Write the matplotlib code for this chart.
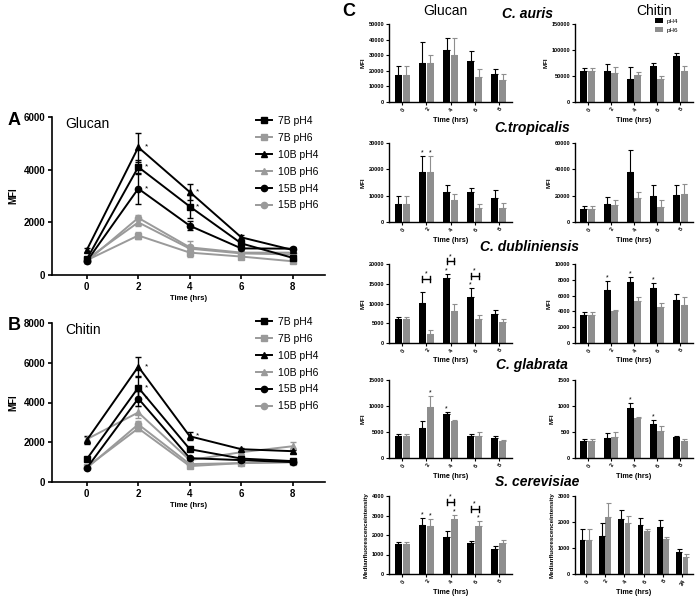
import numpy as np
import matplotlib
matplotlib.use("Agg")
import matplotlib.pyplot as plt
from matplotlib.lines import Line2D

plt.rcParams['font.family'] = ['Liberation Sans', 'DejaVu Sans']

# ---------------- data: panels A/B ----------------
time_ab = [0, 2, 4, 6, 8]
line_labels = ["7B pH4", "7B pH6", "10B pH4", "10B pH6", "15B pH4", "15B pH6"]

glu_7B_pH4 = [600, 4100, 2600, 1200, 650]
glu_7B_pH6 = [560, 1500, 850, 700, 520]
glu_10B_pH4 = [950, 4850, 3150, 1430, 950]
glu_10B_pH6 = [600, 2000, 1000, 820, 780]
glu_15B_pH4 = [520, 3280, 1870, 1010, 1000]
glu_15B_pH6 = [520, 2170, 1050, 850, 850]
glu_7B_pH4_err = [80, 250, 450, 100, 60]
glu_7B_pH6_err = [50, 150, 80, 60, 50]
glu_10B_pH4_err = [60, 550, 300, 100, 60]
glu_10B_pH6_err = [50, 150, 300, 60, 60]
glu_15B_pH4_err = [60, 580, 180, 80, 60]
glu_15B_pH6_err = [50, 100, 100, 60, 60]

chi_7B_pH4 = [1150, 4750, 1650, 1180, 1050]
chi_7B_pH6 = [750, 2700, 800, 950, 1000]
chi_10B_pH4 = [2100, 5800, 2300, 1650, 1550]
chi_10B_pH6 = [2150, 3500, 1100, 1500, 1800]
chi_15B_pH4 = [700, 4200, 1200, 1100, 1000]
chi_15B_pH6 = [700, 2900, 900, 950, 1000]
chi_7B_pH4_err = [80, 600, 100, 80, 60]
chi_7B_pH6_err = [50, 150, 60, 60, 60]
chi_10B_pH4_err = [200, 500, 200, 80, 80]
chi_10B_pH6_err = [100, 300, 100, 80, 200]
chi_15B_pH4_err = [60, 400, 80, 60, 60]
chi_15B_pH6_err = [50, 150, 60, 60, 60]

# ---------------- data: panel C ----------------
time_c = ["0", "2", "4", "6", "8"]
time_c_cer_chi = ["0", "2", "4", "6", "8", "24"]
species = ["C. auris", "C.tropicalis", "C. dubliniensis", "C. glabrata", "S. cerevisiae"]

auris_glu_ph4 = [17500, 25000, 33500, 26000, 18000]
auris_glu_ph4_err = [5500, 13500, 7500, 7000, 3000]
auris_glu_ph6 = [17500, 25000, 30000, 16000, 14000]
auris_glu_ph6_err = [5500, 5000, 11000, 5000, 4000]
auris_chi_ph4 = [59000, 60000, 45000, 69000, 89000]
auris_chi_ph4_err = [7000, 14000, 22000, 6000, 6000]
auris_chi_ph6 = [59000, 55000, 52000, 45000, 60000]
auris_chi_ph6_err = [7000, 12000, 6000, 5000, 10000]

trop_glu_ph4 = [7000, 19000, 11500, 11300, 9300]
trop_glu_ph4_err = [2700, 6000, 2500, 1500, 2700]
trop_glu_ph6 = [7000, 19000, 8200, 5200, 5500]
trop_glu_ph6_err = [2700, 6000, 2500, 1500, 1800]
trop_chi_ph4 = [9500, 14000, 38000, 19500, 20500]
trop_chi_ph4_err = [2500, 5000, 17000, 8500, 7500]
trop_chi_ph6 = [9500, 13000, 18000, 11500, 21000]
trop_chi_ph6_err = [2500, 4000, 5000, 5000, 8000]

dub_glu_ph4 = [6200, 10200, 16500, 11600, 7400]
dub_glu_ph4_err = [500, 2800, 1000, 2200, 1000]
dub_glu_ph6 = [6200, 2200, 8000, 6000, 5400]
dub_glu_ph6_err = [500, 1100, 2000, 1000, 700]
dub_chi_ph4 = [3600, 6700, 7700, 6900, 5500]
dub_chi_ph4_err = [300, 1200, 700, 700, 700]
dub_chi_ph6 = [3600, 4000, 5300, 4600, 4800]
dub_chi_ph6_err = [300, 150, 500, 500, 1000]

glab_glu_ph4 = [4200, 5800, 8500, 4300, 3900]
glab_glu_ph4_err = [400, 1300, 300, 400, 400]
glab_glu_ph6 = [4200, 9800, 7200, 4300, 3200]
glab_glu_ph6_err = [400, 2100, 50, 700, 300]
glab_chi_ph4 = [320, 390, 960, 650, 410]
glab_chi_ph4_err = [40, 90, 90, 80, 10]
glab_chi_ph6 = [320, 410, 770, 520, 330]
glab_chi_ph6_err = [40, 90, 20, 90, 30]

cer_glu_ph4 = [1520, 2500, 1900, 1600, 1270]
cer_glu_ph4_err = [100, 350, 300, 100, 150]
cer_glu_ph6 = [1520, 2480, 2830, 2450, 1580]
cer_glu_ph6_err = [100, 320, 220, 250, 140]
cer_chi_ph4 = [1300, 1480, 2120, 1880, 1800, 860]
cer_chi_ph4_err = [420, 470, 330, 270, 270, 90]
cer_chi_ph6 = [1300, 2180, 1970, 1650, 1350, 640]
cer_chi_ph6_err = [420, 570, 260, 70, 70, 120]

# significance marks: (group index, series index 0=pH4 1=pH6)
trop_glu_stars = [(1, 0), (1, 1)]
dub_glu_stars = [(2, 0), (3, 0)]
dub_glu_brackets = [1, 2, 3]
dub_chi_stars = [(1, 0), (2, 0), (3, 0)]
glab_glu_stars = [(1, 1), (2, 0)]
glab_chi_stars = [(2, 0), (3, 0)]
cer_glu_stars = [(1, 0), (1, 1), (2, 1), (3, 1)]
cer_glu_brackets = [2, 3]

# ---------------- figure ----------------
W, H = 696, 601
fig = plt.figure(figsize=(W / 100, H / 100), dpi=100)


def add_ax(left, top, right, bottom):
    return fig.add_axes([left / W, 1 - bottom / H, (right - left) / W, (bottom - top) / H])


BLACK = "#000000"
GRAY = "#9a9a9a"


def line_panel(ax, series, errs, ymax, yticks, title, letter, letter_top, leg_top, stars):
    styles = [(BLACK, 's'), (GRAY, 's'), (BLACK, '^'), (GRAY, '^'), (BLACK, 'o'), (GRAY, 'o')]
    order = [1, 3, 5, 0, 2, 4]
    for i in order:
        c, m = styles[i]
        ax.errorbar(time_ab, series[i], yerr=errs[i], color=c, marker=m, markersize=4.5,
                    lw=1.4, capsize=2.5, elinewidth=1.0, capthick=1.0)
    handles = [Line2D([], [], color=c, marker=m, markersize=4.5, lw=1.4) for c, m in styles]
    ax.set_xlim(-1.35, 9.25)
    ax.set_ylim(0, ymax)
    ax.set_xticks(time_ab)
    ax.set_yticks(yticks)
    for s in ['top', 'right']:
        ax.spines[s].set_visible(False)
    for s in ['left', 'bottom']:
        ax.spines[s].set_linewidth(1.2)
    ax.tick_params(labelsize=7, width=1.2, length=3, pad=2)
    for lab in ax.get_xticklabels() + ax.get_yticklabels():
        lab.set_fontweight('bold')
    ax.set_ylabel("MFI", fontsize=7, fontweight='bold', labelpad=4)
    ax.set_xlabel("Time (hrs)", fontsize=5.5, fontweight='bold', labelpad=2)
    ax.text(0.05, 1.0, title, transform=ax.transAxes, fontsize=10, va='top', ha='left')
    fig.text(8 / W, 1 - letter_top / H, letter, fontsize=13, fontweight='bold', va='top', ha='left')
    ax.legend(handles=handles, labels=line_labels, loc='upper left',
              bbox_to_anchor=(256 / W, 1 - leg_top / H), bbox_transform=fig.transFigure,
              frameon=False, fontsize=7.5, handlelength=1.5, handletextpad=0.6,
              labelspacing=0.66, borderpad=0, borderaxespad=0)
    for (si, ti) in stars:
        ax.text(time_ab[ti] + 0.3, series[si][ti], "*", fontsize=6, ha='center', va='center')


glu_series = [glu_7B_pH4, glu_7B_pH6, glu_10B_pH4, glu_10B_pH6, glu_15B_pH4, glu_15B_pH6]
glu_errs = [glu_7B_pH4_err, glu_7B_pH6_err, glu_10B_pH4_err, glu_10B_pH6_err, glu_15B_pH4_err, glu_15B_pH6_err]
chi_series = [chi_7B_pH4, chi_7B_pH6, chi_10B_pH4, chi_10B_pH6, chi_15B_pH4, chi_15B_pH6]
chi_errs = [chi_7B_pH4_err, chi_7B_pH6_err, chi_10B_pH4_err, chi_10B_pH6_err, chi_15B_pH4_err, chi_15B_pH6_err]

axA = add_ax(52, 117, 325, 275)
line_panel(axA, glu_series, glu_errs, 6000, [0, 2000, 4000, 6000], "Glucan", "A", 112, 116,
           [(2, 1), (0, 1), (4, 1), (2, 2), (0, 2)])
axB = add_ax(52, 323, 325, 482)
line_panel(axB, chi_series, chi_errs, 8000, [0, 2000, 4000, 6000, 8000], "Chitin", "B", 317, 317,
           [(2, 1), (0, 1), (4, 1), (2, 2)])

# ---------------- panel C ----------------
row_tops = [24, 143, 264, 380, 496]
row_bots = [102, 222, 343, 458, 574]
glu_lr = (389, 512)
chi_lr = (575, 693)

rows = [
    (auris_glu_ph4, auris_glu_ph4_err, auris_glu_ph6, auris_glu_ph6_err, 50000, 10000, [], [],
     auris_chi_ph4, auris_chi_ph4_err, auris_chi_ph6, auris_chi_ph6_err, 150000, 50000, [], time_c),
    (trop_glu_ph4, trop_glu_ph4_err, trop_glu_ph6, trop_glu_ph6_err, 30000, 10000, trop_glu_stars, [],
     trop_chi_ph4, trop_chi_ph4_err, trop_chi_ph6, trop_chi_ph6_err, 60000, 20000, [], time_c),
    (dub_glu_ph4, dub_glu_ph4_err, dub_glu_ph6, dub_glu_ph6_err, 20000, 5000, dub_glu_stars, dub_glu_brackets,
     dub_chi_ph4, dub_chi_ph4_err, dub_chi_ph6, dub_chi_ph6_err, 10000, 2000, dub_chi_stars, time_c),
    (glab_glu_ph4, glab_glu_ph4_err, glab_glu_ph6, glab_glu_ph6_err, 15000, 5000, glab_glu_stars, [],
     glab_chi_ph4, glab_chi_ph4_err, glab_chi_ph6, glab_chi_ph6_err, 1500, 500, glab_chi_stars, time_c),
    (cer_glu_ph4, cer_glu_ph4_err, cer_glu_ph6, cer_glu_ph6_err, 4000, 1000, cer_glu_stars, cer_glu_brackets,
     cer_chi_ph4, cer_chi_ph4_err, cer_chi_ph6, cer_chi_ph6_err, 3000, 1000, [], time_c_cer_chi),
]

BAR_BLACK = "#000000"
BAR_GRAY = "#8e8e8e"


def bar_panel(ax, p4, e4, p6, e6, ymax, ystep, labels, stars, brackets, ylabel, lr, bottom, legend=False):
    n = len(labels)
    x = np.arange(n)
    w = 0.3
    off = 0.165
    ax.bar(x - off, p4, width=w, color=BAR_BLACK, label="pH4")
    ax.bar(x + off, p6, width=w, color=BAR_GRAY, label="pH6")
    ax.errorbar(x - off, p4, yerr=[np.zeros(n), e4], fmt='none', ecolor=BAR_BLACK,
                elinewidth=0.8, capsize=1.8, capthick=0.8)
    ax.errorbar(x + off, p6, yerr=[np.zeros(n), e6], fmt='none', ecolor=BAR_GRAY,
                elinewidth=0.8, capsize=1.8, capthick=0.8)
    ax.set_xlim(-0.55, n - 0.45)
    ax.set_ylim(0, ymax)
    ax.set_yticks(np.arange(0, ymax + 1, ystep))
    ax.set_xticks(x)
    ax.set_xticklabels(labels, rotation=60, ha='right', rotation_mode='anchor')
    for s in ['top', 'right']:
        ax.spines[s].set_visible(False)
    for s in ['left', 'bottom']:
        ax.spines[s].set_linewidth(1.0)
    ax.tick_params(labelsize=4, width=0.8, length=2, pad=1.5)
    for lab in ax.get_xticklabels() + ax.get_yticklabels():
        lab.set_fontweight('bold')
    ax.set_ylabel(ylabel, fontsize=4.5, fontweight='bold', labelpad=2)
    fig.text((lr[0] + lr[1]) / 2 / W, 1 - (bottom + 18) / H, "Time (hrs)", fontsize=5.2,
             fontweight='bold', ha='center', va='center', zorder=10)
    tops4 = np.array(p4) + np.array(e4)
    tops6 = np.array(p6) + np.array(e6)
    for (g, s) in stars:
        top = tops4[g] if s == 0 else tops6[g]
        xx = g - off if s == 0 else g + off
        ax.text(xx, top + 0.04 * ymax, "*", fontsize=5, ha='center', va='center')
    for g in brackets:
        yb = max(tops4[g], tops6[g]) + 0.16 * ymax
        tick = 0.035 * ymax
        ax.plot([g - off, g + off], [yb, yb], color='black', lw=1.0, clip_on=False)
        ax.plot([g - off, g - off], [yb - tick, yb + tick], color='black', lw=1.0, clip_on=False)
        ax.plot([g + off, g + off], [yb - tick, yb + tick], color='black', lw=1.0, clip_on=False)
        ax.text(g, yb + 0.06 * ymax, "*", fontsize=5, ha='center', va='center', clip_on=False)
    if legend:
        ax.legend(loc='upper left', bbox_to_anchor=(655 / W, 1 - 18 / H), bbox_transform=fig.transFigure,
                  frameon=False, fontsize=4.5, handlelength=1.2, handleheight=0.8,
                  handletextpad=0.6, labelspacing=0.6, borderpad=0, borderaxespad=0)


for i, r in enumerate(rows):
    (g4, ge4, g6, ge6, gmax, gstep, gstars, gbr,
     c4, ce4, c6, ce6, cmax, cstep, cstars, clabels) = r
    ylabel = "Medianfluorescenceintensity" if i == 4 else "MFI"
    axg = add_ax(glu_lr[0], row_tops[i], glu_lr[1], row_bots[i])
    bar_panel(axg, g4, ge4, g6, ge6, gmax, gstep, time_c, gstars, gbr, ylabel, glu_lr, row_bots[i])
    axc = add_ax(chi_lr[0], row_tops[i], chi_lr[1], row_bots[i])
    bar_panel(axc, c4, ce4, c6, ce6, cmax, cstep, clabels, cstars, [], ylabel, chi_lr, row_bots[i],
              legend=(i == 0))

species_y = [14, 128, 247, 365, 482]
species_x = [527, 532, 530, 532, 537]
for sp, sx, sy in zip(species, species_x, species_y):
    fig.text(sx / W, 1 - sy / H, sp, fontsize=10, fontweight='bold', fontstyle='italic',
             ha='center', va='center')

fig.text(445 / W, 1 - 11 / H, "Glucan", fontsize=10, ha='center', va='center')
fig.text(654 / W, 1 - 11 / H, "Chitin", fontsize=10, ha='center', va='center')
fig.text(342 / W, 1 - 3 / H, "C", fontsize=13, fontweight='bold', ha='left', va='top')

fig.savefig("out.png", dpi=100)
